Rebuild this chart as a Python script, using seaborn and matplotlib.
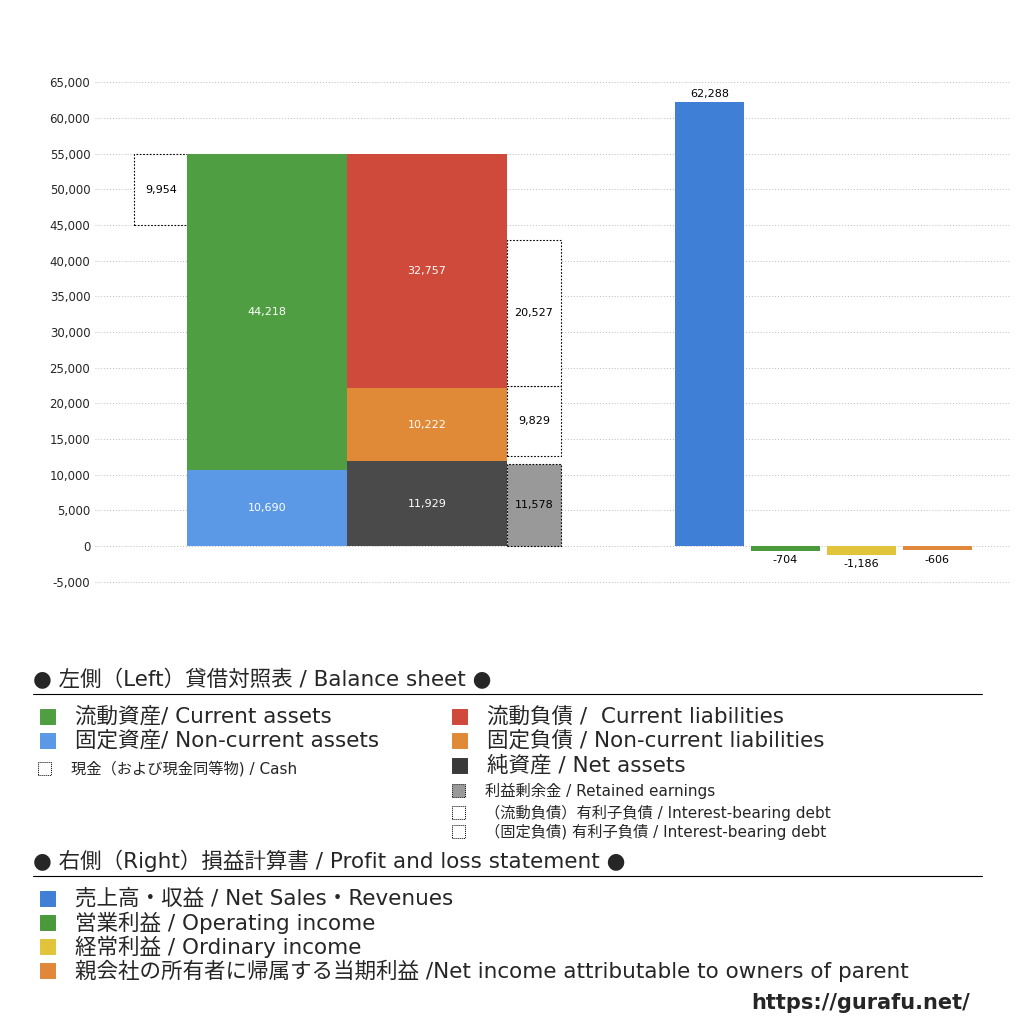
import matplotlib
matplotlib.use("Agg")
import matplotlib.pyplot as plt
import seaborn as sns
import numpy as np
import pandas as pd
from matplotlib.patches import Rectangle

sns.set_style("white")
plt.rcParams['font.family'] = ['DejaVu Sans', 'Noto Sans CJK JP']

# balance sheet values (million yen)
current_assets = 44218
noncurrent_assets = 10690
cash = 9954
current_liab = 32757
noncurrent_liab = 10222
net_assets = 11929
retained = 11578
debt_current = 20527
debt_noncurrent = 9829

# profit and loss
pl_labels = ["売上高", "営業利益", "経常利益", "当期利益"]
pl_values = [62288, -704, -1186, -606]
pl_colors = ["#3f7fd6", "#4a9a3c", "#e2c43a", "#e0873a"]

fig = plt.figure(figsize=(10.24, 10.24), dpi=100)
ax = fig.add_axes([0.093, 0.414, 0.893, 0.527])
ax.set_xlim(95, 1010)
ax.set_ylim(-7560, 68080)

total_assets = current_assets + noncurrent_assets

def box(x0, w, bottom, h, color, label, dashed=False, txtcol="white"):
    if dashed:
        ax.bar(x0, h, w, bottom=bottom, align="edge", facecolor=color,
               edgecolor="black", linestyle=(0, (1.5, 1.5)), linewidth=0.8, zorder=3)
    else:
        ax.bar(x0, h, w, bottom=bottom, align="edge", color=color, linewidth=0, zorder=3)
    ax.text(x0 + w / 2, bottom + h / 2, f"{label:,}", ha="center", va="center",
            fontsize=8, color=txtcol, zorder=4)

# left side: assets
box(134, 53, total_assets - cash, cash, "white", cash, dashed=True, txtcol="black")
box(187, 160, 0, noncurrent_assets, "#5b98e6", noncurrent_assets)
box(187, 160, noncurrent_assets, current_assets, "#4f9e42", current_assets)
# liabilities + net assets
box(347, 160, 0, net_assets, "#4a4a4a", net_assets)
box(347, 160, net_assets, noncurrent_liab, "#e08a38", noncurrent_liab)
box(347, 160, net_assets + noncurrent_liab, current_liab, "#cf4a3a", current_liab)
# retained earnings / interest-bearing debt
box(507, 54, 0, retained, "#999999", retained, dashed=True, txtcol="black")
box(507, 54, 12600, debt_noncurrent, "white", debt_noncurrent, dashed=True, txtcol="black")
box(507, 54, 12600 + debt_noncurrent, debt_current, "white", debt_current, dashed=True, txtcol="black")

# right side: P&L bars
pl_x = [675, 751, 827, 903]
for x0, v, c in zip(pl_x, pl_values, pl_colors):
    ax.bar(x0, v, 69, align="edge", color=c, linewidth=0, zorder=3)
    off = 400 if v > 0 else -600
    ax.text(x0 + 34.5, v + off, f"{v:,}", ha="center", va="bottom" if v > 0 else "top",
            fontsize=8, color="black")

ticks = np.arange(-5000, 65001, 5000)
ax.set_yticks(ticks)
ax.set_yticklabels([f"{t:,}" for t in ticks], fontsize=8.5)
ax.yaxis.set_tick_params(length=0)
ax.set_xticks([])
ax.grid(axis="y", color="#bbbbbb", linestyle=(0, (1, 2)), linewidth=0.7)
for s in ax.spines.values():
    s.set_visible(False)

# legend area
def px(x, y):
    return x / 1024, 1 - y / 1024

def item(x, y, color, text, size=15.5, sq=15, dashed=False):
    r = Rectangle(px(x, y + sq), sq / 1024, sq / 1024, transform=fig.transFigure,
                  facecolor=color, edgecolor="black" if dashed else color,
                  linestyle=(0, (1, 1)) if dashed else "-", linewidth=0.7)
    fig.patches.append(r)
    tx, ty = px(x + sq + 20, y + sq / 2)
    fig.text(tx, ty, text, fontsize=size, va="center", ha="left")

fig.text(*px(33, 680), "● 左側（Left）貸借対照表 / Balance sheet ●", fontsize=15.5, va="center")
fig.add_artist(plt.Line2D([33 / 1024, 982 / 1024], [1 - 694 / 1024] * 2, color="black", lw=0.8))
item(40, 709, "#4f9e42", "流動資産/ Current assets")
item(40, 733, "#5b98e6", "固定資産/ Non-current assets")
item(38, 762, "white", "現金（および現金同等物) / Cash", size=11, sq=13, dashed=True)
item(452, 709, "#cf4a3a", "流動負債 /  Current liabilities")
item(452, 733, "#e08a38", "固定負債 / Non-current liabilities")
item(452, 758, "#3a3a3a", "純資産 / Net assets")
item(452, 784, "#999999", "利益剰余金 / Retained earnings", size=11, sq=13, dashed=True)
item(452, 806, "white", "（流動負債）有利子負債 / Interest-bearing debt", size=11, sq=13, dashed=True)
item(452, 825, "white", "（固定負債) 有利子負債 / Interest-bearing debt", size=11, sq=13, dashed=True)

fig.text(*px(33, 861), "● 右側（Right）損益計算書 / Profit and loss statement ●", fontsize=15.5, va="center")
fig.add_artist(plt.Line2D([33 / 1024, 982 / 1024], [1 - 876 / 1024] * 2, color="black", lw=0.8))
item(40, 891, "#3f7fd6", "売上高・収益 / Net Sales・Revenues")
item(40, 915, "#4a9a3c", "営業利益 / Operating income")
item(40, 939, "#e2c43a", "経常利益 / Ordinary income")
item(40, 963, "#e0873a", "親会社の所有者に帰属する当期利益 /Net income attributable to owners of parent")
fig.text(*px(970, 1003), "https://gurafu.net/", fontsize=15, fontweight="bold", ha="right", va="center")

fig.savefig("out.png", dpi=100)
